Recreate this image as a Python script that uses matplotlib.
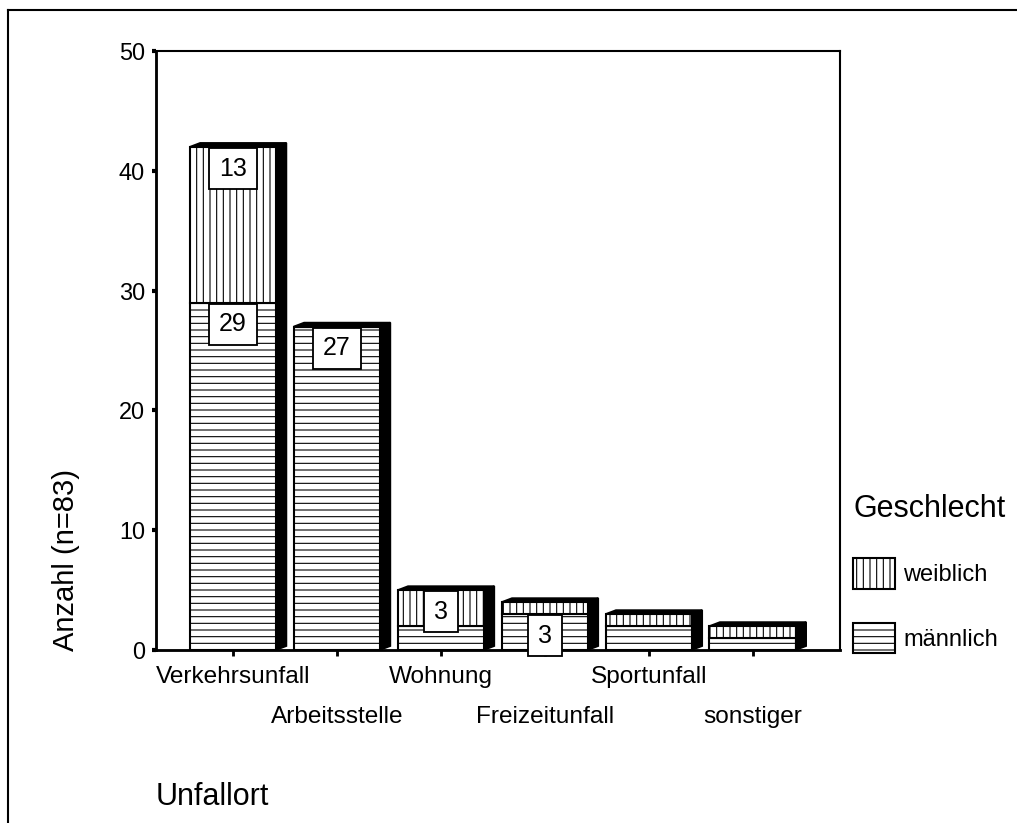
import numpy as np
import matplotlib
matplotlib.use('Agg')
import matplotlib.pyplot as plt
from matplotlib.patches import Rectangle
from matplotlib.lines import Line2D

plt.rcParams['font.family'] = ['Liberation Sans', 'DejaVu Sans']
plt.rcParams['hatch.linewidth'] = 0.66
plt.rcParams['hatch.color'] = 'black'

# data
categories = ['Verkehrsunfall', 'Arbeitsstelle', 'Wohnung', 'Freizeitunfall', 'Sportunfall', 'sonstiger']
maennlich = np.array([29, 27, 2, 3, 2, 1])
weiblich = np.array([13, 0, 3, 1, 1, 1])
yticks = [0, 10, 20, 30, 40, 50]

# dpi 120 so the hatch spacing comes out near the original
fig = plt.figure(figsize=(1018 / 120, 823 / 120), dpi=120)
ax = fig.add_axes([0.1532, 0.2102, 0.6719, 0.7278])

x = np.arange(len(categories))
width = 0.83
ax.bar(x, maennlich, width, color='white', edgecolor='black', hatch='---',
       linewidth=1.25, label='männlich', zorder=2)
ax.bar(x, weiblich, width, bottom=maennlich, color='white', edgecolor='black',
       hatch='|||', linewidth=1.25, label='weiblich', zorder=2)

# fake 3d: top and side faces
totals = maennlich + weiblich
dx, dy = 0.1, 0.33
for xi, t in zip(x, totals):
    x0, x1 = xi - width / 2, xi + width / 2
    ax.fill([x0, x0 + dx, x1 + dx, x1], [t, t + dy, t + dy, t], color='black', zorder=2)
    ax.fill([x1, x1 + dx, x1 + dx, x1], [0, dy, t + dy, t], color='black', zorder=2)

# value boxes
bh = 3.42
for xi, m, w in zip(x, maennlich, weiblich):
    for val, top in [(m, m), (w, m + w)]:
        if val < 3:
            continue
        txt = str(val)
        bw = 0.33 if len(txt) == 1 else 0.46
        y0 = top - 0.1 - bh
        ax.add_patch(Rectangle((xi - bw / 2, y0), bw, bh, facecolor='white',
                               edgecolor='black', linewidth=1.1, zorder=4, clip_on=False))
        ax.text(xi, y0 + bh / 2, txt, ha='center', va='center', fontsize=15, zorder=5)

ax.set_xlim(-0.74, 5.84)
ax.set_ylim(0, 50)
ax.set_yticks(yticks)
ax.set_yticklabels([str(v) for v in yticks], fontsize=14.1)
ax.set_xticks(x)
ax.set_xticklabels(categories, fontsize=14.6)
for i, tick in enumerate(ax.xaxis.get_major_ticks()):
    tick.set_pad(6.5 if i % 2 == 0 else 30)

ax.tick_params(axis='y', length=2.5, width=2.5, pad=4)
ax.tick_params(axis='x', length=3.3, width=1.7)

for side in ['left', 'bottom']:
    ax.spines[side].set_linewidth(1.7)
for side in ['top', 'right']:
    ax.spines[side].set_linewidth(1.25)

ax.set_ylabel('Anzahl (n=83)', fontsize=17.5)
ax.yaxis.set_label_coords(-0.111, 0.15)
ax.set_xlabel('Unfallort', fontsize=18.3, ha='left', va='center')
ax.xaxis.set_label_coords(0.0, -0.246)

handles, labels = ax.get_legend_handles_labels()
ax.legend(handles[::-1], labels[::-1], title='Geschlecht', loc='upper left',
          bbox_to_anchor=(0.838, 0.400), bbox_transform=fig.transFigure,
          frameon=False, fontsize=14.2, title_fontsize=18.3, handlelength=1.78,
          handleheight=1.6, handletextpad=0.35, labelspacing=1.45,
          alignment='left', borderpad=0, borderaxespad=0)

# outer frame
fig.add_artist(Line2D([0.0079, 0.0079], [0, 0.9878], color='black', linewidth=1.25))
fig.add_artist(Line2D([0.0079, 1], [0.9878, 0.9878], color='black', linewidth=1.25))

fig.savefig('out.png', dpi=120)
